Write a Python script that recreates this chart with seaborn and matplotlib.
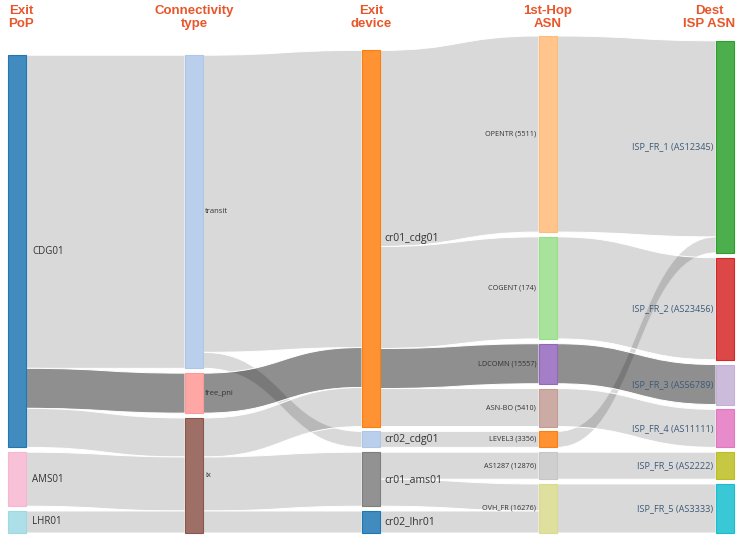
import numpy as np
import pandas as pd
import seaborn as sns
import matplotlib.pyplot as plt
from matplotlib.path import Path
from matplotlib.patches import PathPatch, Rectangle
from matplotlib import font_manager
from matplotlib.colors import to_rgba

# nodes per stage (top to bottom)
col_pop = ["CDG01", "AMS01", "LHR01"]
col_conn = ["transit", "free_pni", "ix"]
col_device = ["cr01_cdg01", "cr02_cdg01", "cr01_ams01", "cr02_lhr01"]
col_hop = ["OPENTR (5511)", "COGENT (174)", "LDCOMN (15557)", "ASN-BO (5410)",
           "LEVEL3 (3356)", "AS1287 (12876)", "OVH_FR (16276)"]
col_dest = ["ISP_FR_1 (AS12345)", "ISP_FR_2 (AS23456)", "ISP_FR_3 (AS56789)",
            "ISP_FR_4 (AS11111)", "ISP_FR_5 (AS2222)", "ISP_FR_5 (AS3333)"]
headers = ["Exit\nPoP", "Connectivity\ntype", "Exit\ndevice", "1st-Hop\nASN", "Dest\nISP ASN"]

# tab20 index for each node colour
pop_colors = [0, 13, 19]
conn_colors = [1, 7, 10]
device_colors = [2, 1, 14, 0]
hop_colors = [3, 5, 8, 11, 2, 15, 17]
dest_colors = [4, 6, 9, 12, 16, 18]

# flows (Gbps)
link_src = ["CDG01", "CDG01", "CDG01", "AMS01", "LHR01",
            "transit", "transit", "free_pni", "ix", "ix", "ix",
            "cr01_cdg01", "cr01_cdg01", "cr01_cdg01", "cr01_cdg01", "cr02_cdg01",
            "cr01_ams01", "cr01_ams01", "cr02_lhr01",
            "OPENTR (5511)", "LEVEL3 (3356)", "COGENT (174)", "LDCOMN (15557)",
            "ASN-BO (5410)", "AS1287 (12876)", "OVH_FR (16276)"]
link_dst = ["transit", "free_pni", "ix", "ix", "ix",
            "cr01_cdg01", "cr02_cdg01", "cr01_cdg01", "cr01_cdg01", "cr01_ams01", "cr02_lhr01",
            "OPENTR (5511)", "COGENT (174)", "LDCOMN (15557)", "ASN-BO (5410)", "LEVEL3 (3356)",
            "AS1287 (12876)", "OVH_FR (16276)", "OVH_FR (16276)",
            "ISP_FR_1 (AS12345)", "ISP_FR_1 (AS12345)", "ISP_FR_2 (AS23456)", "ISP_FR_3 (AS56789)",
            "ISP_FR_4 (AS11111)", "ISP_FR_5 (AS2222)", "ISP_FR_5 (AS3333)"]
link_val = [313, 40, 39, 54, 22,
            297, 16, 40, 39, 54, 22,
            196, 102, 40, 38, 16,
            27, 27, 22,
            196, 16, 102, 40,
            38, 27, 49]
# the free_pni path is highlighted
link_hl = [0, 1, 0, 0, 0,
           0, 0, 1, 0, 0, 0,
           0, 0, 1, 0, 0,
           0, 0, 0,
           0, 0, 0, 1,
           0, 0, 0]


def build_layout(columns, links, x_left, bottom, top, pad):
    nodes = {}
    for ci, names in enumerate(columns):
        for name in names:
            vin = links.loc[links.dst == name, "val"].sum()
            vout = links.loc[links.src == name, "val"].sum()
            nodes[name] = {"col": ci, "val": max(vin, vout)}
    # scale from the tallest column
    scale = min((bottom - top - pad * (len(c) - 1)) / sum(nodes[n]["val"] for n in c) for c in columns)
    for ci, names in enumerate(columns):
        total = sum(nodes[n]["val"] for n in names) * scale + pad * (len(names) - 1)
        y = bottom - total
        for name in names:
            h = nodes[name]["val"] * scale
            nodes[name].update(x=x_left[ci], y0=y, y1=y + h)
            y += h + pad
    for n in nodes.values():
        n["yc"] = (n["y0"] + n["y1"]) / 2
    # link offsets in each node, sorted by position of the other end
    links = links.copy()
    links["s0"] = 0.0
    links["t0"] = 0.0
    for name, n in nodes.items():
        out = links[links.src == name].copy()
        out["key"] = [nodes[t]["yc"] for t in out.dst]
        y = n["y0"]
        for idx in out.sort_values("key").index:
            links.loc[idx, "s0"] = y
            y += links.loc[idx, "val"] * scale
        inc = links[links.dst == name].copy()
        inc["key"] = [nodes[s]["yc"] for s in inc.src]
        y = n["y0"]
        for idx in inc.sort_values("key").index:
            links.loc[idx, "t0"] = y
            y += links.loc[idx, "val"] * scale
    links["h"] = links.val * scale
    return nodes, links


sns.set_theme(style="white")
names_avail = {f.name for f in font_manager.fontManager.ttflist}
head_font = "Liberation Sans Narrow" if "Liberation Sans Narrow" in names_avail else "Liberation Sans"
label_font = ["Open Sans", "DejaVu Sans"]

pal = sns.color_palette("tab20")
columns = [col_pop, col_conn, col_device, col_hop, col_dest]
col_cidx = [pop_colors, conn_colors, device_colors, hop_colors, dest_colors]

links = pd.DataFrame({"src": link_src, "dst": link_dst, "val": link_val, "hl": link_hl})

W, H = 738, 538
node_w = 18
x_left = np.linspace(8, W - 22, 5)
nodes, links = build_layout(columns, links, x_left, bottom=533, top=36, pad=4.8)

fig = plt.figure(figsize=(W / 100, H / 100), dpi=100)
ax = fig.add_axes([0, 0, 1, 1])
ax.set_xlim(0, W)
ax.set_ylim(H, 0)
ax.axis("off")

# links
for _, r in links.iterrows():
    xs = nodes[r.src]["x"] + node_w
    xt = nodes[r.dst]["x"]
    xm = (xs + xt) / 2
    s0, s1 = r.s0, r.s0 + r.h
    t0, t1 = r.t0, r.t0 + r.h
    verts = [(xs, s0), (xm, s0), (xm, t0), (xt, t0), (xt, t1),
             (xm, t1), (xm, s1), (xs, s1), (xs, s0)]
    codes = [Path.MOVETO, Path.CURVE4, Path.CURVE4, Path.CURVE4, Path.LINETO,
             Path.CURVE4, Path.CURVE4, Path.CURVE4, Path.CLOSEPOLY]
    fc = (0, 0, 0, 0.44) if r.hl else (0, 0, 0, 0.15)
    ax.add_patch(PathPatch(Path(verts, codes), facecolor=fc, edgecolor="white", lw=0.7, zorder=1))

# label style per stage: (side, gap, size, colour)
label_style = [("right", 6, 7, "#333333"), ("right", 2, 5.5, "#333333"),
               ("right", 4, 7.5, "#333333"), ("left", 3, 5.2, "#333333"),
               ("left", 3, 6.6, "#3d5a78")]

# nodes and labels
for ci, names in enumerate(columns):
    side, gap, size, tc = label_style[ci]
    for name, k in zip(names, col_cidx[ci]):
        n = nodes[name]
        c = pal[k]
        ax.add_patch(Rectangle((n["x"], n["y0"]), node_w, n["y1"] - n["y0"],
                               facecolor=to_rgba(c, 0.85), edgecolor=c, lw=0.8, zorder=2))
        if side == "right":
            ax.text(n["x"] + node_w + gap, n["yc"], name, fontsize=size, color=tc,
                    va="center", ha="left", family=label_font, zorder=3)
        else:
            ax.text(n["x"] - gap, n["yc"], name, fontsize=size, color=tc,
                    va="center", ha="right", family=label_font, zorder=3)

# stage headers
for ci, text in enumerate(headers):
    xc = x_left[ci] + node_w / 2
    ha = "center"
    if ci == 0:
        xc, ha = x_left[ci], "left"
    elif ci == len(headers) - 1:
        xc, ha = W - 3, "right"
    ax.text(xc, 5, text, fontsize=9.5, fontweight="bold", color="#e8562a",
            ha=ha, va="top", family=head_font, linespacing=1.1, multialignment="center")

fig.savefig("out.png", dpi=100)
